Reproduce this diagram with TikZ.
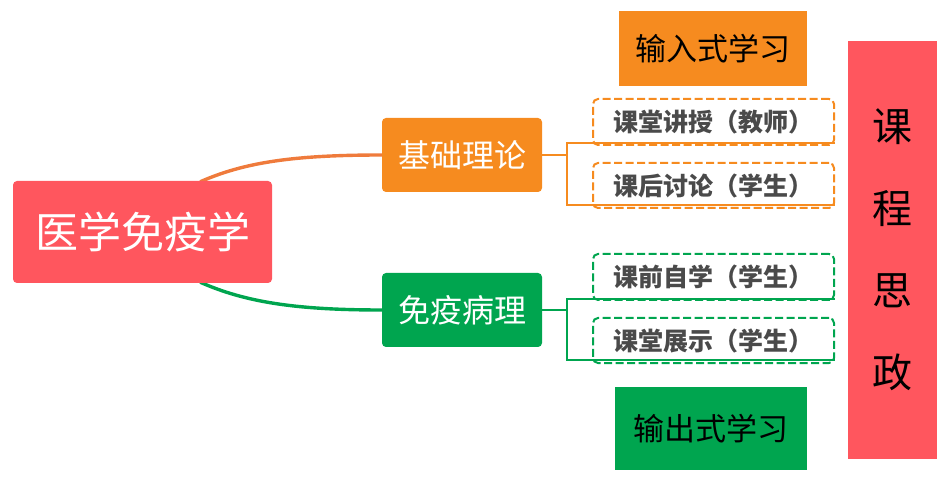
\documentclass[tikz,border=0pt]{standalone}
\usepackage{fontspec}
\setmainfont{Noto Sans CJK SC}
\usetikzlibrary{backgrounds}
\definecolor{rootred}{HTML}{FF565E}
\definecolor{boxorange}{HTML}{F68B1F}
\definecolor{curveorange}{HTML}{EF7B3C}
\definecolor{boxgreen}{HTML}{00A54F}
\definecolor{txtgray}{HTML}{4A4A4A}
\tikzset{
  mainbox/.style={rectangle, rounded corners=4pt, inner sep=0pt, text=white},
  subbox/.style={rectangle, rounded corners=5pt, inner sep=0pt, dash pattern=on 8pt off 3.5pt, line width=2pt, fill=white,
     text=txtgray, font=\fontsize{25}{30}\selectfont\bfseries, minimum width=241pt},
  flatbox/.style={rectangle, inner sep=0pt, text=black, font=\fontsize{31}{36}\selectfont},
  bracket/.style={line width=2.4pt},
  curve/.style={line width=3.4pt},
}
\begin{document}
\begin{tikzpicture}[x=1pt,y=-1pt]
\useasboundingbox (0,0) rectangle (946,481);
% main nodes
\node[mainbox, fill=rootred, minimum width=259pt, minimum height=102pt, font=\fontsize{43}{50}\selectfont] (root) at (142.5,232) {医学免疫学};
\node[mainbox, fill=boxorange, minimum width=160pt, minimum height=74pt, font=\fontsize{32}{38}\selectfont] (jc) at (462,155) {基础理论};
\node[mainbox, fill=boxgreen, minimum width=160pt, minimum height=74pt, font=\fontsize{32}{38}\selectfont] (my) at (462,310) {免疫病理};
% dashed leaves
\node[subbox, draw=boxorange, minimum height=46pt] (d1) at (713.5,122) {课堂讲授（教师）};
\node[subbox, draw=boxorange, minimum height=45pt] (d2) at (713.5,185.5) {课后讨论（学生）};
\node[subbox, draw=boxgreen, minimum height=46pt] (d3) at (713.5,277) {课前自学（学生）};
\node[subbox, draw=boxgreen, minimum height=45pt] (d4) at (713.5,340.5) {课堂展示（学生）};
% side boxes
\node[flatbox, fill=boxorange, minimum width=188pt, minimum height=75pt] (inl) at (713,48.5) {输入式学习};
\node[flatbox, fill=boxgreen, minimum width=192pt, minimum height=83pt] (outl) at (711,428.5) {输出式学习};
\node[rectangle, fill=rootred, inner sep=0pt, minimum width=89pt, minimum height=418pt] (kc) at (892.5,250)
  {\raisebox{6.5pt}{\parbox{60pt}{\centering\fontsize{40}{82}\selectfont 课\\程\\思\\政}}};
% connectors
\begin{scope}[on background layer]
\draw[curve, curveorange] ([xshift=-72pt,yshift=-1pt]root.north east) .. controls (245,162) and (295,155) .. (jc.west);
\draw[curve, boxgreen] ([xshift=-72pt,yshift=1pt]root.south east) .. controls (245,302) and (295,310) .. (my.west);
\end{scope}
\coordinate (ob) at (567,155);
\coordinate (gb) at (567,310);
\draw[bracket, boxorange] (jc.east) -- (ob);
\draw[bracket, boxorange] ([yshift=3pt]d1.south east) -- ([yshift=3pt]d1.south east -| ob) -- ([yshift=4pt]d2.south east -| ob) -- ([yshift=4pt]d2.south east);
\draw[bracket, boxgreen] (my.east) -- (gb);
\draw[bracket, boxgreen] ([yshift=2pt]d3.south east) -- ([yshift=2pt]d3.south east -| gb) -- ([yshift=4pt]d4.south east -| gb) -- ([yshift=4pt]d4.south east);
\end{tikzpicture}
\end{document}
